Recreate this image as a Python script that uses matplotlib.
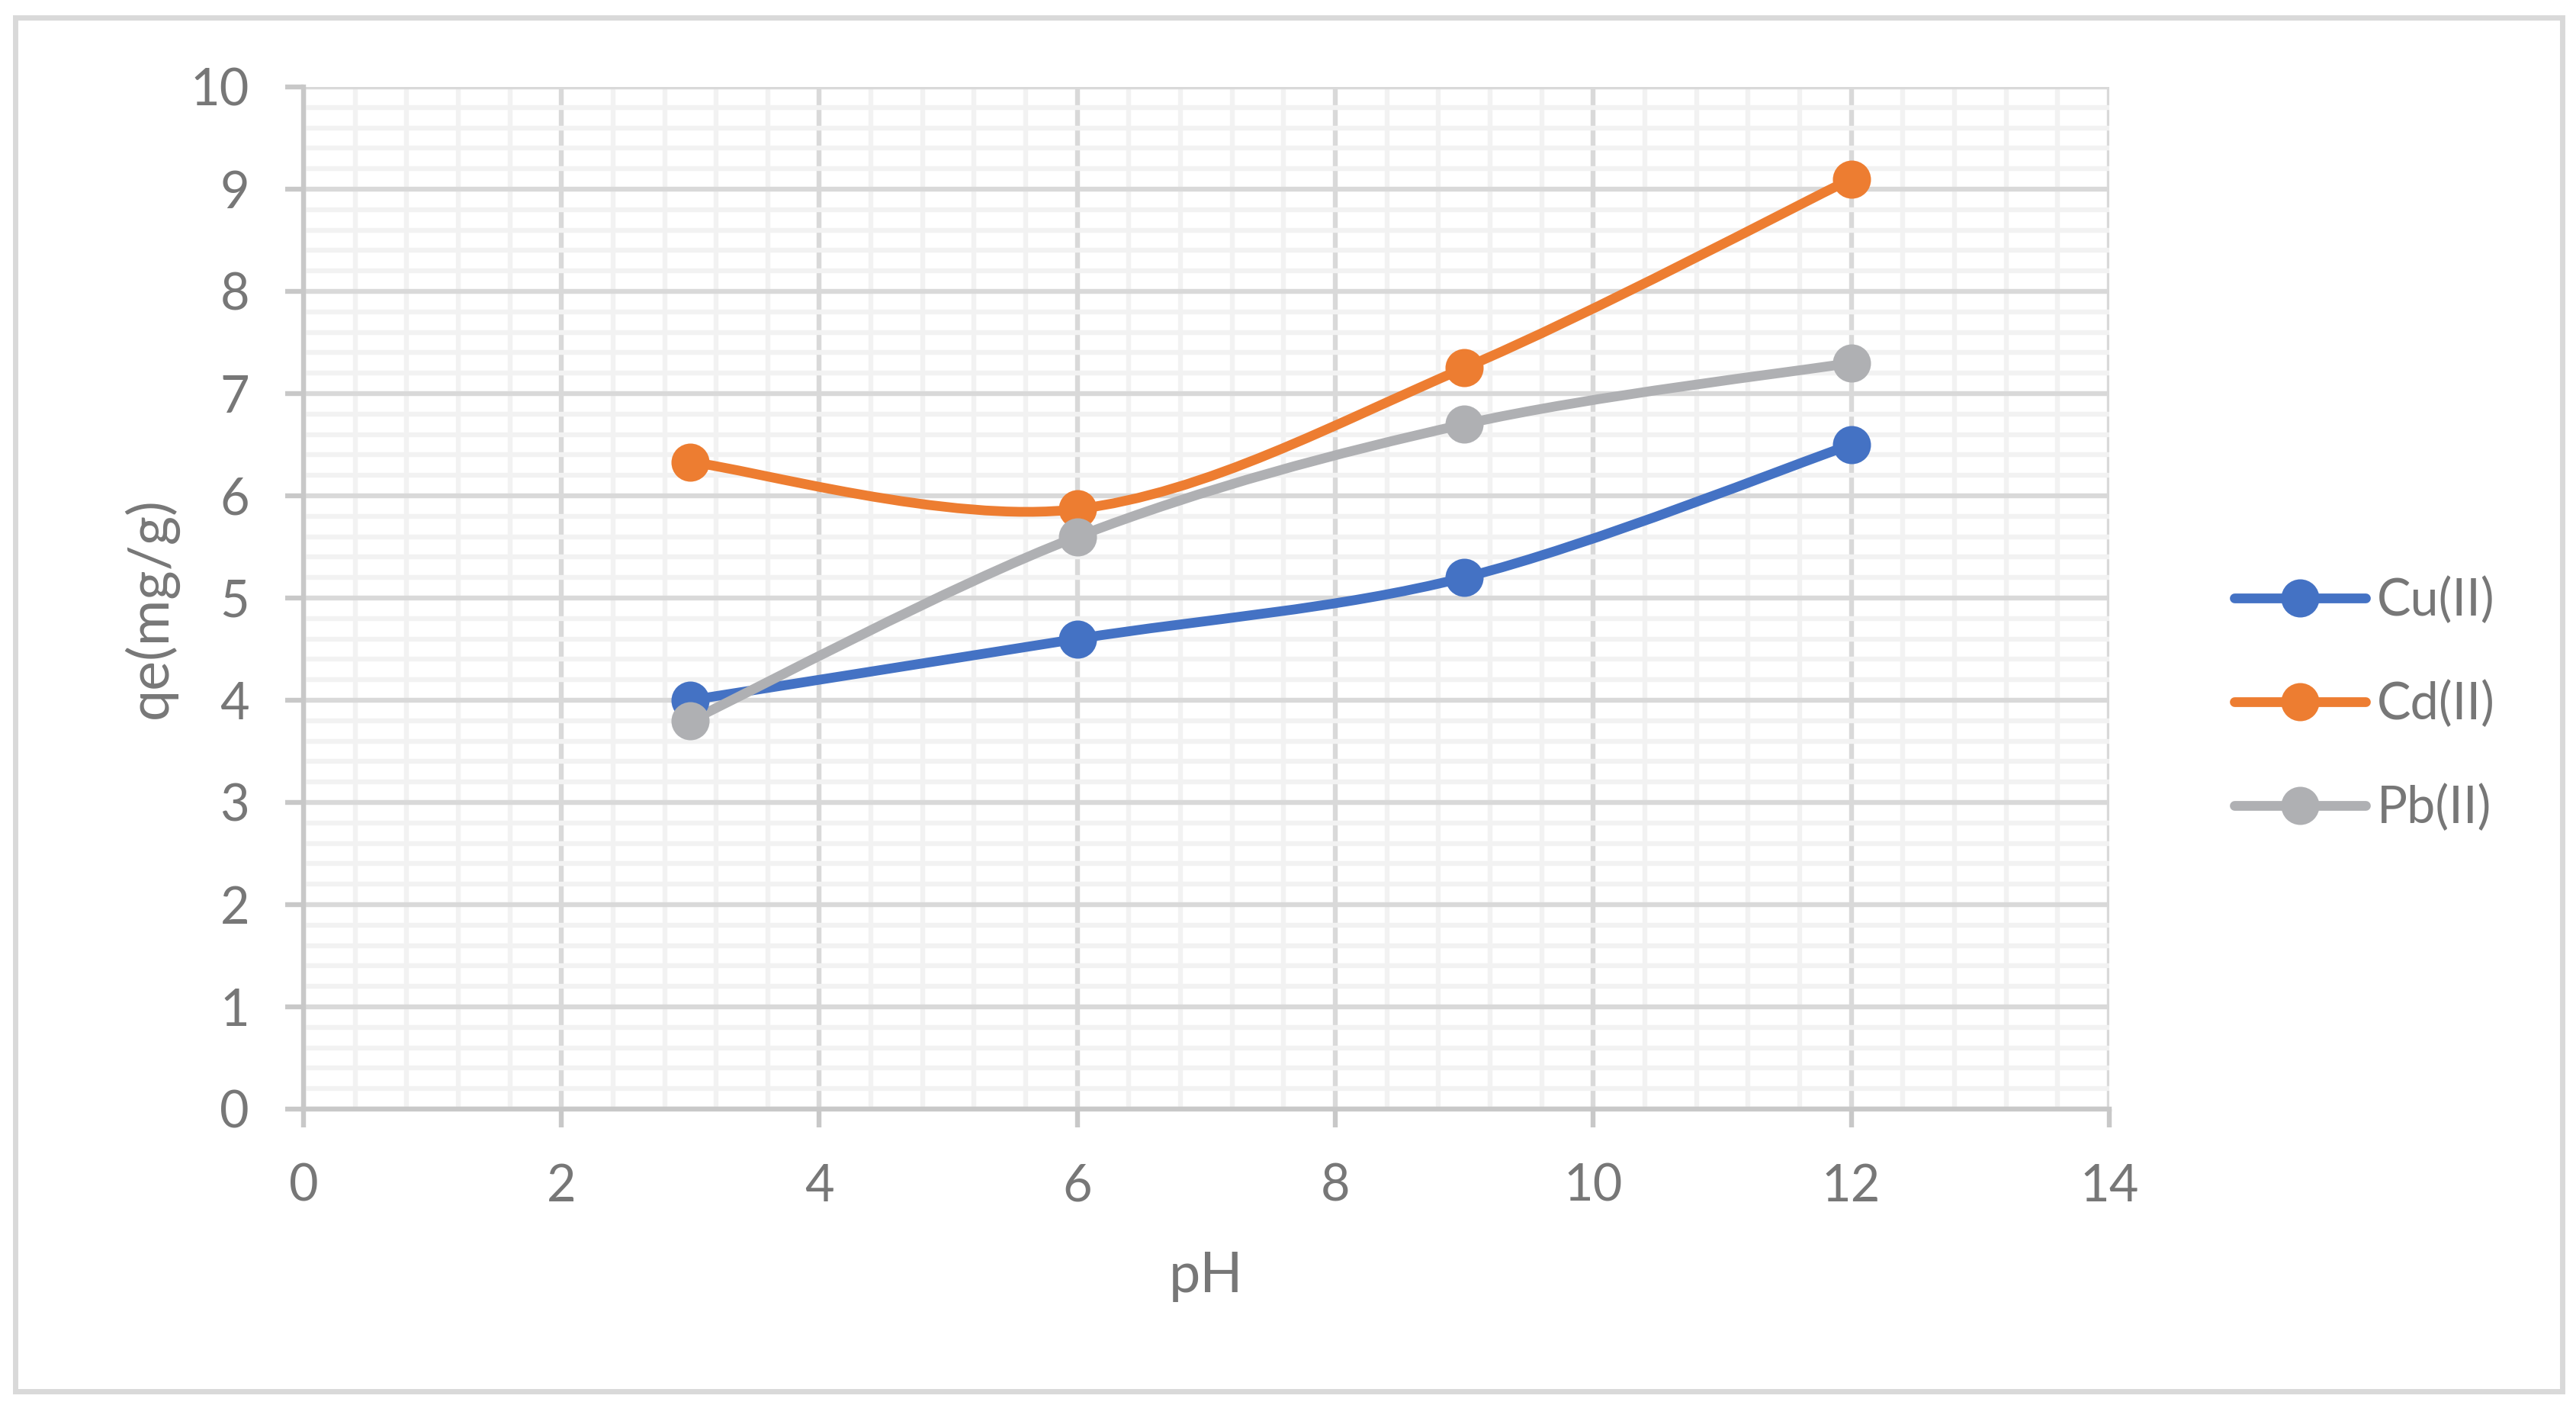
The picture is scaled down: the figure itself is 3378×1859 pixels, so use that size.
import matplotlib
matplotlib.use("Agg")
import matplotlib.pyplot as plt
from matplotlib.path import Path
from matplotlib.patches import PathPatch, Rectangle
from matplotlib.lines import Line2D
from matplotlib.ticker import MultipleLocator

# data
ph = [3, 6, 9, 12]
cu = [4.0, 4.6, 5.2, 6.5]
cd = [6.33, 5.87, 7.25, 9.1]
pb = [3.8, 5.6, 6.7, 7.3]
names = ["Cu(II)", "Cd(II)", "Pb(II)"]
colors = ["#4472C4", "#ED7D31", "#AFB0B3"]

plt.rcParams['font.family'] = ['Lato', 'DejaVu Sans']
TXT = "#777777"
LW = 2.3


def smooth_path(xs, ys):
    # Excel style smoothed line: cubic bezier, catmull-rom control points
    pts = list(zip(xs, ys))
    n = len(pts)
    verts = [pts[0]]
    codes = [Path.MOVETO]
    for i in range(n - 1):
        p0 = pts[max(i - 1, 0)]
        p1 = pts[i]
        p2 = pts[i + 1]
        p3 = pts[min(i + 2, n - 1)]
        c1 = (p1[0] + (p2[0] - p0[0]) / 6, p1[1] + (p2[1] - p0[1]) / 6)
        c2 = (p2[0] - (p3[0] - p1[0]) / 6, p2[1] - (p3[1] - p1[1]) / 6)
        verts += [c1, c2, p2]
        codes += [Path.CURVE4] * 3
    return Path(verts, codes)


fig = plt.figure(figsize=(16.89, 9.295), dpi=200)
ax = fig.add_axes([0.1178, 0.2179, 0.7010, 0.7208])

for ys, name, c in zip([cu, cd, pb], names, colors):
    patch = PathPatch(smooth_path(ph, ys), facecolor='none', edgecolor=c,
                      lw=4.6, capstyle='round', joinstyle='round', zorder=3)
    ax.add_patch(patch)
    ax.plot(ph, ys, 'o', color=c, markersize=17, linestyle='none', zorder=4)

ax.set_xlim(0, 14)
ax.set_ylim(0, 10)
ax.xaxis.set_major_locator(MultipleLocator(2))
ax.xaxis.set_minor_locator(MultipleLocator(0.4))
ax.yaxis.set_major_locator(MultipleLocator(1))
ax.yaxis.set_minor_locator(MultipleLocator(0.2))
ax.set_axisbelow(True)
ax.grid(which='minor', color='#f2f2f2', lw=LW)
ax.grid(which='major', color='#d9d9d9', lw=LW)

for s in ['top', 'right']:
    ax.spines[s].set_visible(False)
for s in ['left', 'bottom']:
    ax.spines[s].set_color('#c8c8c8')
    ax.spines[s].set_linewidth(LW)

ax.tick_params(which='major', direction='out', length=8.5, width=LW,
               color='#c8c8c8', labelcolor=TXT, labelsize=24, pad=17)
ax.tick_params(which='minor', length=0)

ax.set_xlabel('pH', fontsize=26.5, color=TXT)
ax.set_ylabel('qe(mg/g)', fontsize=26.5, color=TXT)
ax.xaxis.set_label_coords(0.5, -0.164)
ax.yaxis.set_label_coords(-0.0845, 0.49)
ax.xaxis.label.set_va('center')
ax.yaxis.label.set_va('center')

handles = [Line2D([], [], color=c, lw=4.6, marker='o', markersize=17,
                  solid_capstyle='round') for c in colors]
fig.legend(handles, names, loc='center left', bbox_to_anchor=(0.8674, 0.503),
           frameon=False, fontsize=24, labelcolor=TXT, handlelength=2.58,
           handletextpad=0.22, labelspacing=1.1, borderaxespad=0, borderpad=0)

# light frame round the whole chart
fig.patches.append(Rectangle((20 / 3378, 1 - 1824 / 1859), 3340 / 3378, 1801 / 1859,
                             transform=fig.transFigure, fill=False,
                             edgecolor='#d9d9d9', lw=2.5))

fig.savefig('out.png', dpi=200)
